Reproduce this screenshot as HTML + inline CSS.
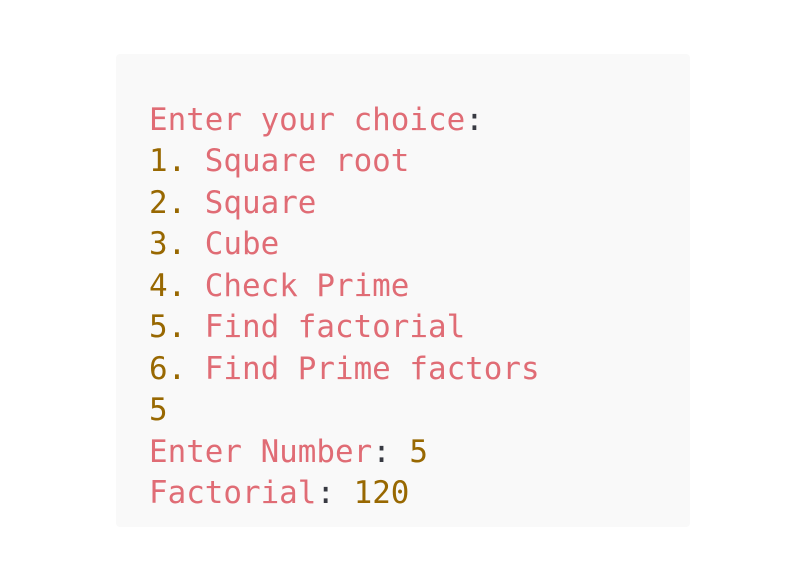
<!DOCTYPE html>
<html><head><style>
html,body{margin:0;padding:0;background:#fff;width:806px;height:582px;overflow:hidden}
.box{position:absolute;left:116px;top:54px;width:574px;height:473px;background:#f9f9f9;border-radius:4px}
pre{position:absolute;left:149px;top:100px;margin:0;font-family:"DejaVu Sans Mono","Liberation Mono",monospace;font-size:30.9px;line-height:41.45px;color:#e06c75}
.n{color:#986801}.p{color:#383a42}
</style></head><body>
<div class="box"></div>
<pre>Enter your choice<span class="p">:</span>
<span class="n">1.</span> Square root
<span class="n">2.</span> Square
<span class="n">3.</span> Cube
<span class="n">4.</span> Check Prime
<span class="n">5.</span> Find factorial
<span class="n">6.</span> Find Prime factors
<span class="n">5</span>
Enter Number<span class="p">:</span> <span class="n">5</span>
Factorial<span class="p">:</span> <span class="n">120</span></pre>
</body></html>
